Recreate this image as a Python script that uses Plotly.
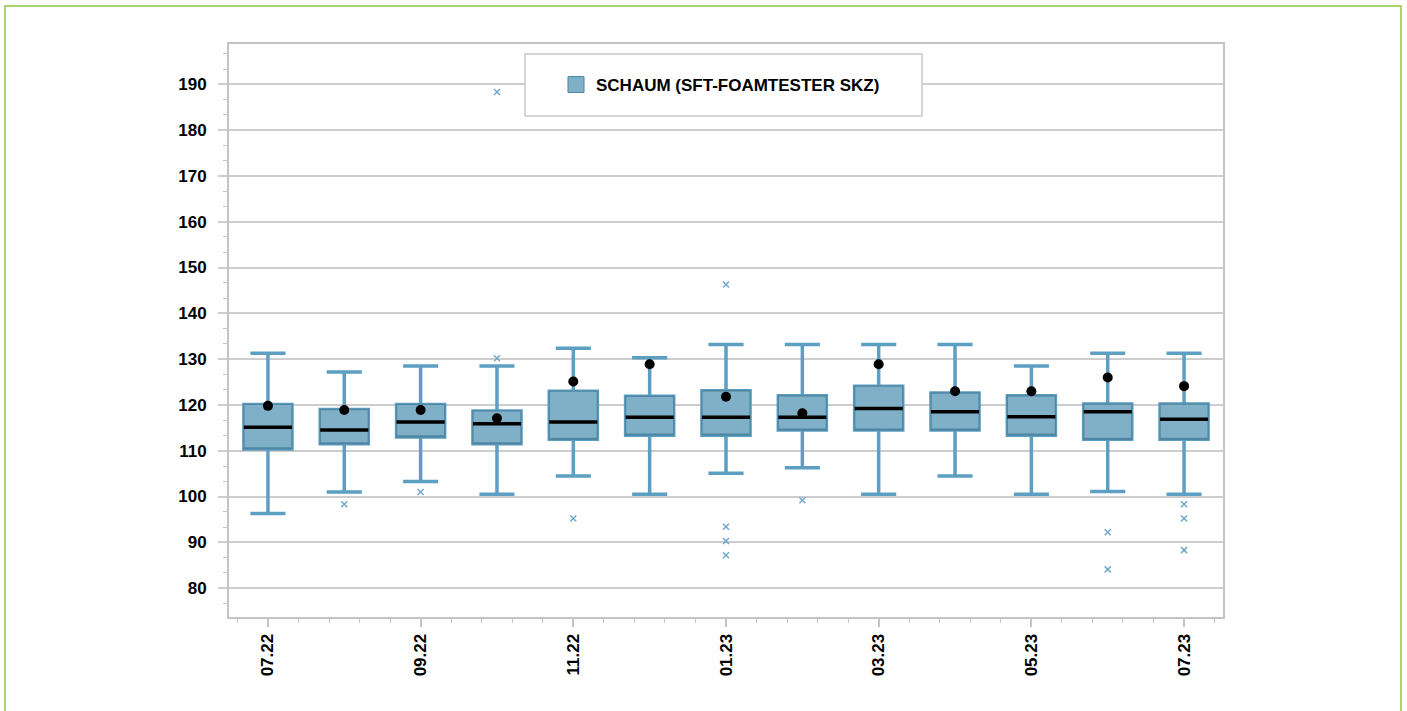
import plotly.graph_objects as go

# ---- data ----
months = ["07.22", "08.22", "09.22", "10.22", "11.22", "12.22", "01.23",
          "02.23", "03.23", "04.23", "05.23", "06.23", "07.23"]
upper_whisker = [131.3, 127.2, 128.5, 128.5, 132.4, 130.3, 133.2, 133.2, 133.2, 133.2, 128.5, 131.3, 131.3]
q3_values     = [120.1, 119.0, 120.1, 118.7, 123.0, 121.9, 123.1, 122.0, 124.1, 122.6, 122.0, 120.2, 120.2]
median_values = [115.1, 114.5, 116.3, 115.9, 116.3, 117.3, 117.3, 117.3, 119.2, 118.5, 117.4, 118.5, 116.9]
q1_values     = [110.4, 111.5, 113.0, 111.5, 112.5, 113.4, 113.4, 114.5, 114.5, 114.5, 113.4, 112.5, 112.5]
lower_whisker = [96.3, 101.0, 103.3, 100.5, 104.5, 100.5, 105.1, 106.3, 100.5, 104.5, 100.5, 101.1, 100.5]
mean_values   = [119.8, 118.9, 118.9, 117.1, 125.1, 128.9, 121.8, 118.2, 128.9, 123.0, 123.0, 126.0, 124.1]
outlier_month = ["08.22", "09.22", "10.22", "10.22", "11.22", "01.23", "01.23", "01.23", "01.23",
                 "02.23", "06.23", "06.23", "07.23", "07.23", "07.23"]
outlier_value = [98.3, 101.0, 130.2, 188.3, 95.2, 146.3, 93.4, 90.3, 87.2,
                 99.2, 92.2, 84.1, 98.3, 95.2, 88.3]
series_name = "SCHAUM (SFT-FOAMTESTER SKZ)"
tick_labels = months[::2]

x_idx = list(range(len(months)))
out_x = [months.index(m) for m in outlier_month]

FONT = "Liberation Sans, Arial, sans-serif"
BOX_FILL = "#7fb0c8"
BOX_EDGE = "#4f86a3"
WHISKER = "#5c9fc2"
GRID = "#cdcdcd"
AXIS = "#c4c4c4"

fig = go.Figure()

# whiskers (thick blue)
fig.add_trace(go.Box(
    x=x_idx, q1=q1_values, median=median_values, q3=q3_values,
    lowerfence=lower_whisker, upperfence=upper_whisker,
    width=0.63, whiskerwidth=0.73, boxpoints=False,
    line=dict(color=WHISKER, width=3.5), fillcolor=BOX_FILL,
    showlegend=False, hoverinfo="skip"))
# box body (thin darker outline)
fig.add_trace(go.Box(
    x=x_idx, q1=q1_values, median=q1_values, q3=q3_values,
    lowerfence=q1_values, upperfence=q3_values,
    width=0.63, whiskerwidth=0, boxpoints=False,
    line=dict(color=BOX_EDGE, width=1.3), fillcolor=BOX_FILL,
    showlegend=False, hoverinfo="skip"))
# median (black line)
fig.add_trace(go.Box(
    x=x_idx, q1=median_values, median=median_values, q3=median_values,
    lowerfence=median_values, upperfence=median_values,
    width=0.63, whiskerwidth=0, boxpoints=False,
    line=dict(color="black", width=3.5), fillcolor="black",
    showlegend=False, hoverinfo="skip"))
# means
fig.add_trace(go.Scatter(
    x=x_idx, y=mean_values, mode="markers",
    marker=dict(color="black", size=10, symbol="circle"),
    showlegend=False))
# outliers
fig.add_trace(go.Scatter(
    x=out_x, y=outlier_value, mode="markers",
    marker=dict(symbol="x-thin", size=6, line=dict(color="#6fa9cc", width=1.5)),
    showlegend=False))
# legend entry
fig.add_trace(go.Scatter(
    x=[None], y=[None], mode="markers", name=series_name,
    marker=dict(symbol="square", size=30, color=BOX_FILL, line=dict(color=BOX_EDGE, width=1))))

W, H = 1407, 711
L, R, T, B = 229, 1407 - 1223, 44, 711 - 617
pw, ph = W - L - R, H - T - B

def px_x(p):
    return (p - L) / pw

def px_y(p):
    return (H - B - p) / ph

fig.update_layout(
    width=W, height=H,
    margin=dict(l=L, r=R, t=T, b=B, autoexpand=False),
    paper_bgcolor="white", plot_bgcolor="white",
    font=dict(family=FONT, size=17, color="black", weight="bold"),
    showlegend=True,
    legend=dict(x=px_x(556), y=px_y(67), xanchor="left", yanchor="top",
                bgcolor="rgba(0,0,0,0)", borderwidth=0,
                itemsizing="trace",
                font=dict(family=FONT, size=17, color="black", weight="bold")),
    shapes=[
        dict(type="rect", xref="paper", yref="paper",
             x0=px_x(5), x1=px_x(1401), y0=px_y(730), y1=px_y(6),
             line=dict(color="#8dc63f", width=1.5), fillcolor="rgba(0,0,0,0)", layer="below"),
        dict(type="rect", xref="paper", yref="paper",
             x0=px_x(525), x1=px_x(922), y0=px_y(116), y1=px_y(54),
             line=dict(color="#c8c8c8", width=1.5), fillcolor="white", layer="above"),
    ],
)

fig.update_xaxes(
    range=[-0.51, 12.51], tickmode="array", tickvals=x_idx[::2], ticktext=tick_labels,
    tickangle=-90, ticks="outside", ticklen=8, tickwidth=1.5, tickcolor=AXIS,
    showgrid=False, zeroline=False,
    showline=True, linecolor=AXIS, linewidth=2, mirror=True,
    tickfont=dict(family=FONT, size=17, color="black", weight="bold"),
    minor=dict(dtick=0.4, tick0=0, ticks="outside", ticklen=4, tickcolor=AXIS, tickwidth=1.2),
)
fig.update_yaxes(
    range=[73.7, 198.8], tickmode="linear", tick0=80, dtick=10,
    ticks="outside", ticklen=9, tickwidth=1.5, tickcolor=GRID,
    showgrid=True, gridcolor=GRID, gridwidth=1.8, zeroline=False,
    showline=True, linecolor=AXIS, linewidth=2, mirror=True,
    tickfont=dict(family=FONT, size=17, color="black", weight="bold"),
    ticklabelstandoff=8,
    minor=dict(dtick=10/3, tick0=80, ticks="outside", ticklen=4, tickcolor=AXIS, tickwidth=1.2, showgrid=False),
)

fig.write_html("out.html", config={"displayModeBar": False},
               post_script="document.body.style.margin='0';")
